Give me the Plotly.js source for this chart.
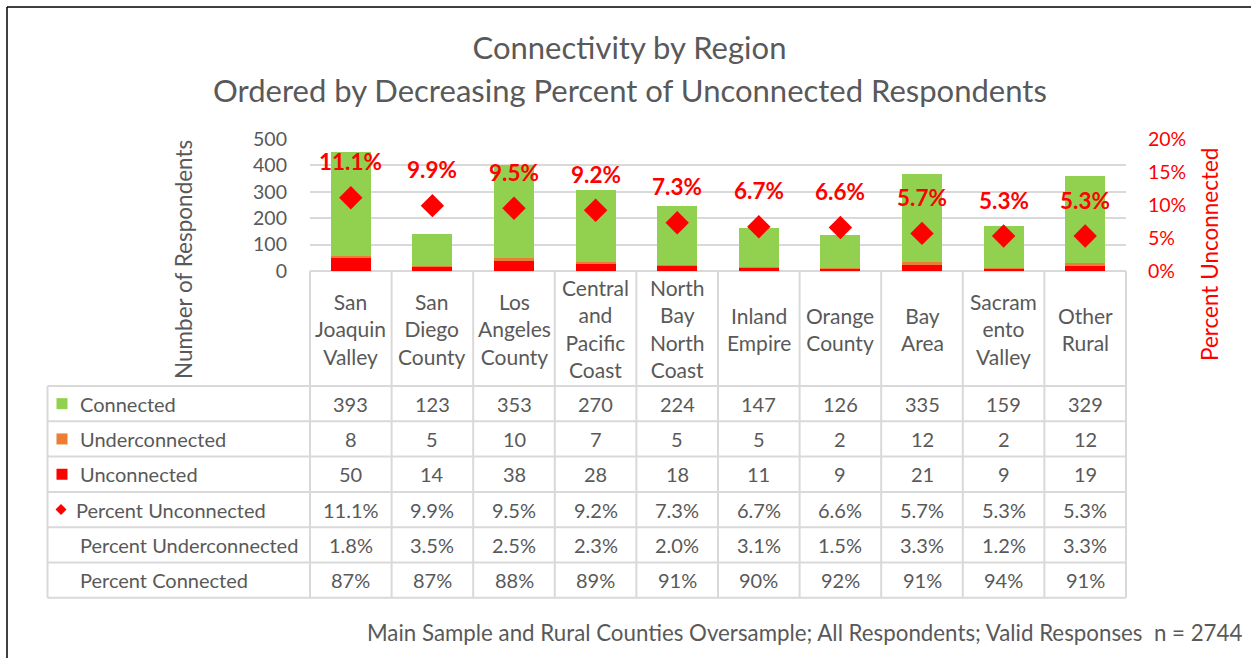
<!DOCTYPE html>
<html>
<head>
<meta charset="utf-8">
<script src="https://cdn.plot.ly/plotly-3.0.1.min.js"></script>
<style>html,body{margin:0;padding:0;background:#fff;}#chart{width:1251px;height:658px;}</style>
</head>
<body>
<div id="chart"></div>
<script>
// ---- data ----
const regions = ["San Joaquin Valley","San Diego County","Los Angeles County","Central and Pacific Coast","North Bay North Coast","Inland Empire","Orange County","Bay Area","Sacramento Valley","Other Rural"];
const regionLabels = ["San<br>Joaquin<br>Valley","San<br>Diego<br>County","Los<br>Angeles<br>County","Central<br>and<br>Pacific<br>Coast","North<br>Bay<br>North<br>Coast","Inland<br>Empire","Orange<br>County","Bay<br>Area","Sacram<br>ento<br>Valley","Other<br>Rural"];
const connected = [393,123,353,270,224,147,126,335,159,329];
const underconnected = [8,5,10,7,5,5,2,12,2,12];
const unconnected = [50,14,38,28,18,11,9,21,9,19];
const pctUnconnected = [11.1,9.9,9.5,9.2,7.3,6.7,6.6,5.7,5.3,5.3];
const pctUnderconnected = [1.8,3.5,2.5,2.3,2.0,3.1,1.5,3.3,1.2,3.3];
const pctConnected = [87,87,88,89,91,90,92,91,94,91];
const leftTicks = [0,100,200,300,400,500];
const rightTicks = [0,5,10,15,20];

// ---- geometry helpers ----
const W=1251,H=658;
const L=310,R=1126,T=139,B=271;
const px = v => (v-L)/(R-L);
const py = v => (B-v)/(B-T);
const GRAY="#595959", LINE="#d9d9d9";
const GREEN="#92D050", ORANGE="#ED7D31", RED="#FF0000";
const FONT="Lato, 'Open Sans', sans-serif";

const idx = regions.map((_,i)=>i);

const traces = [
  {type:'bar', name:'Unconnected', x:idx, y:unconnected, marker:{color:RED}, width:0.49, hoverinfo:'y'},
  {type:'bar', name:'Underconnected', x:idx, y:underconnected, marker:{color:ORANGE}, width:0.49, hoverinfo:'y'},
  {type:'bar', name:'Connected', x:idx, y:connected, marker:{color:GREEN}, width:0.49, hoverinfo:'y'},
  {type:'scatter', mode:'markers', name:'Percent Unconnected', x:idx, y:pctUnconnected, yaxis:'y2',
   marker:{symbol:'diamond', size:18, color:RED}, hoverinfo:'y'}
];

const shapes = [];
const annotations = [];

// outer frame (top & left visible)
shapes.push({type:'line', xref:'paper', yref:'paper', x0:px(7), x1:px(1260), y0:py(7), y1:py(7), line:{color:'#000', width:1.5}});
shapes.push({type:'line', xref:'paper', yref:'paper', x0:px(7), x1:px(7), y0:py(7), y1:py(670), line:{color:'#000', width:1.5}});

// table geometry
const tblLeft = 47.5;
const catBottom = 386;
const rowH = 35.3;
const rowNames = ["Connected","Underconnected","Unconnected","Percent Unconnected","Percent Underconnected","Percent Connected"];
const rowVals = [
  connected.map(String),
  underconnected.map(String),
  unconnected.map(String),
  pctUnconnected.map(v=>v.toFixed(1)+'%'),
  pctUnderconnected.map(v=>v.toFixed(1)+'%'),
  pctConnected.map(v=>v+'%')
];
const tblBottom = catBottom + rowH*rowNames.length;
const colW = (R-L)/regions.length;

// horizontal table lines
for(let r=0;r<=rowNames.length;r++){
  const yy = catBottom + r*rowH;
  shapes.push({type:'line', xref:'paper', yref:'paper', x0:px(tblLeft), x1:px(R), y0:py(yy), y1:py(yy), line:{color:LINE, width:2}});
}
// vertical table lines
for(let c=0;c<=regions.length;c++){
  const xx = L + c*colW;
  shapes.push({type:'line', xref:'paper', yref:'paper', x0:px(xx), x1:px(xx), y0:py(B), y1:py(tblBottom), line:{color:LINE, width:2}});
}
shapes.push({type:'line', xref:'paper', yref:'paper', x0:px(tblLeft), x1:px(tblLeft), y0:py(catBottom), y1:py(tblBottom), line:{color:LINE, width:2}});

// category labels
regionLabels.forEach((t,i)=>{
  annotations.push({xref:'x', yref:'paper', x:i, y:py((B+catBottom)/2), text:t, showarrow:false,
    xanchor:'center', yanchor:'middle', align:'center', font:{family:FONT, size:21, color:GRAY}});
});

// table rows
const keyColors = [GREEN, ORANGE, RED];
rowNames.forEach((name,r)=>{
  const cy = catBottom + (r+0.5)*rowH;
  let tx = 78;
  if(r<3){
    shapes.push({type:'rect', xref:'paper', yref:'paper', x0:px(56.5), x1:px(67.5), y0:py(cy-5.5), y1:py(cy+5.5), fillcolor:keyColors[r], line:{width:0}});
  } else if(r===3){
    tx = 74;
    const cx=61, d=5.5;
    const p = `M ${px(cx)} ${py(cy-d)} L ${px(cx+d)} ${py(cy)} L ${px(cx)} ${py(cy+d)} L ${px(cx-d)} ${py(cy)} Z`;
    shapes.push({type:'path', xref:'paper', yref:'paper', path:p, fillcolor:RED, line:{width:0}});
  }
  annotations.push({xref:'paper', yref:'paper', x:px(tx), y:py(cy), text:name, showarrow:false,
    xanchor:'left', yanchor:'middle', font:{family:FONT, size:20, color:GRAY}});
  rowVals[r].forEach((v,i)=>{
    annotations.push({xref:'x', yref:'paper', x:i, y:py(cy), text:v, showarrow:false,
      xanchor:'center', yanchor:'middle', font:{family:FONT, size:20, color:GRAY}});
  });
});

// percent data labels
pctUnconnected.forEach((v,i)=>{
  annotations.push({xref:'x', yref:'y2', x:i, y:v, text:'<b>'+v.toFixed(1)+'%</b>', showarrow:false,
    yshift:36, xanchor:'center', yanchor:'middle', font:{family:FONT, size:22.5, color:RED}});
});

// subtitle line
annotations.push({xref:'paper', yref:'paper', x:px(629.5), y:py(90), text:'Ordered by Decreasing Percent of Unconnected Respondents',
  showarrow:false, xanchor:'center', yanchor:'middle', font:{family:FONT, size:31, color:GRAY}});

// axis titles
annotations.push({xref:'paper', yref:'paper', x:px(183), y:py(260), text:'Number of Respondents', textangle:-90,
  showarrow:false, xanchor:'center', yanchor:'middle', font:{family:FONT, size:22.5, color:GRAY}});
annotations.push({xref:'paper', yref:'paper', x:px(1209), y:py(255), text:'Percent Unconnected', textangle:-90,
  showarrow:false, xanchor:'center', yanchor:'middle', font:{family:FONT, size:22.5, color:RED}});

// footnote
annotations.push({xref:'paper', yref:'paper', x:px(1244), y:py(632), text:'Main Sample and Rural Counties Oversample; All Respondents; Valid Responses&nbsp; n = 2744',
  showarrow:false, xanchor:'right', yanchor:'middle', font:{family:FONT, size:22.3, color:GRAY}});

const layout = {
  width:W, height:H,
  margin:{l:L, r:W-R, t:T, b:H-B, pad:0},
  paper_bgcolor:'#fff', plot_bgcolor:'#fff',
  font:{family:FONT, color:GRAY},
  title:{text:'Connectivity by Region', x:629.5/W, xref:'container', xanchor:'center', y:1-48/H, yanchor:'middle', yref:'container',
    font:{family:FONT, size:31, color:GRAY}},
  barmode:'stack',
  bargap:0.5,
  showlegend:false,
  xaxis:{range:[-0.5,9.5], showticklabels:false, showgrid:false, zeroline:false, showline:false, ticks:'', fixedrange:true},
  yaxis:{range:[0,500], tickvals:leftTicks, ticktext:leftTicks.map(String), showgrid:true, gridcolor:LINE, gridwidth:2,
    zeroline:true, zerolinecolor:LINE, zerolinewidth:2, showline:false, ticks:'', ticklabelstandoff:22,
    tickfont:{family:FONT, size:19.5, color:GRAY}},
  yaxis2:{range:[0,20], overlaying:'y', side:'right', tickvals:rightTicks, ticktext:rightTicks.map(v=>v+'%'),
    showgrid:false, zeroline:false, showline:false, ticks:'', ticklabelstandoff:21,
    tickfont:{family:FONT, size:19.5, color:RED}},
  shapes:shapes,
  annotations:annotations
};

Plotly.newPlot('chart', traces, layout, {displayModeBar:false, staticPlot:true});
</script>
</body>
</html>
